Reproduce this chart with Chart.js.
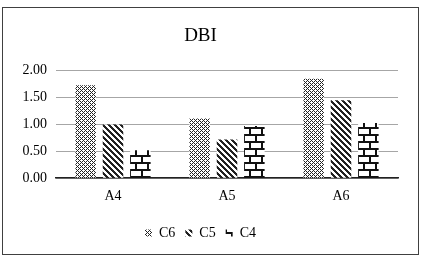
<!DOCTYPE html>
<html>
<head>
<meta charset="utf-8">
<script src="https://cdn.jsdelivr.net/npm/chart.js@4.4.0/dist/chart.umd.min.js"></script>
<style>
  html, body { margin: 0; padding: 0; background: #fff; }
  #box {
    position: absolute; left: 2px; top: 7px;
    width: 415px; height: 246px;
    border: 1.5px solid #404040;
  }
  canvas { display: block; }
</style>
</head>
<body>
<div id="box"><canvas id="chart" width="415" height="246"></canvas></div>
<script>
// data
const categories = ["A4", "A5", "A6"];
const seriesNames = ["C6", "C5", "C4"];
const c6Values = [1.73, 1.11, 1.85];
const c5Values = [1.00, 0.72, 1.45];
const c4Values = [0.52, 0.97, 1.03];
const yTicks = [0, 0.5, 1, 1.5, 2];

// make pattern fills like the excel ones
function makePattern(w, h, draw) {
  let c = document.createElement("canvas");
  c.width = w;
  c.height = h;
  let g = c.getContext("2d");
  g.fillStyle = "#fff";
  g.fillRect(0, 0, w, h);
  g.fillStyle = "#222";
  draw(g);
  return g.createPattern(c, "repeat");
}

// small dotted grid
const patC6 = makePattern(4, 4, g => {
  for (let x = 0; x < 4; x++) {
    for (let y = 0; y < 4; y++) {
      if ((x + y) % 4 == 0 || (x - y + 4) % 4 == 0) g.fillRect(x, y, 1, 1);
    }
  }
});

// wide downward diagonal
const patC5 = makePattern(6, 6, g => {
  for (let x = 0; x < 6; x++) {
    for (let y = 0; y < 6; y++) {
      let d = (x - y + 6) % 6;
      if (d < 3) g.fillRect(x, y, 1, 1);
    }
  }
});

// brick
const patC4 = makePattern(12, 14, g => {
  g.fillStyle = "#111";
  g.fillRect(0, 0, 12, 2);
  g.fillRect(0, 7, 12, 2);
  g.fillRect(0, 0, 2, 7);
  g.fillRect(6, 7, 2, 7);
});

Chart.defaults.font.family = "'Liberation Serif', 'Times New Roman', serif";
Chart.defaults.color = "#000";

const barOpt = {
  categoryPercentage: 0.72,
  barPercentage: 0.75,
  borderWidth: 0
};

new Chart(document.getElementById("chart").getContext("2d"), {
  type: "bar",
  data: {
    labels: categories,
    datasets: [
      Object.assign({ label: seriesNames[0], data: c6Values, backgroundColor: patC6 }, barOpt),
      Object.assign({ label: seriesNames[1], data: c5Values, backgroundColor: patC5 }, barOpt),
      Object.assign({ label: seriesNames[2], data: c4Values, backgroundColor: patC4 }, barOpt)
    ]
  },
  options: {
    responsive: false,
    animation: false,
    layout: {
      padding: { left: 0, right: 20, top: 0, bottom: 4 }
    },
    scales: {
      x: {
        grid: { display: false },
        border: { display: true, color: "#222", width: 1.5 },
        ticks: { font: { size: 14 }, padding: 2 },
        afterFit: scale => {
          // some empty room under the labels
          scale.height += 9;
        }
      },
      y: {
        min: 0,
        max: 2,
        afterBuildTicks: scale => {
          scale.ticks = yTicks.map(v => ({ value: v }));
        },
        afterFit: scale => {
          scale.width = 53;
        },
        border: { display: false },
        grid: {
          color: "#a6a6a6",
          lineWidth: 1,
          drawTicks: false
        },
        ticks: {
          font: { size: 14 },
          padding: 9,
          callback: v => Number(v).toFixed(2)
        }
      }
    },
    plugins: {
      title: {
        display: true,
        text: "DBI",
        font: { size: 19, weight: "normal" },
        color: "#000",
        padding: { top: 17, bottom: 23 }
      },
      legend: {
        position: "bottom",
        labels: {
          boxWidth: 7,
          boxHeight: 7,
          padding: 10,
          font: { size: 14 }
        }
      },
      tooltip: { enabled: false }
    }
  }
});
</script>
</body>
</html>
